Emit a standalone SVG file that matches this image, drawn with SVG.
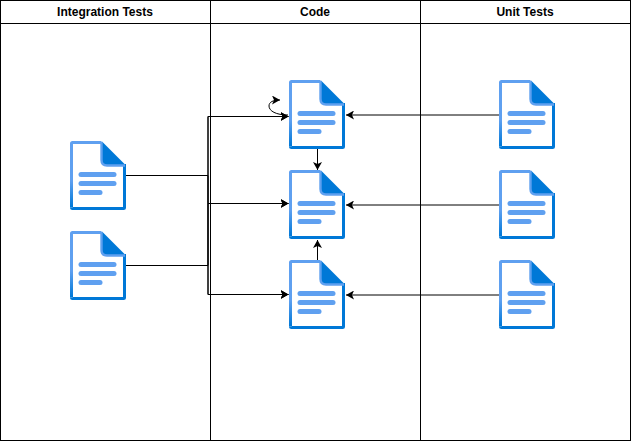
<svg xmlns="http://www.w3.org/2000/svg" width="631" height="441" viewBox="0 0 631 441">
<style>
.lane{fill:#fff;stroke:#000;stroke-width:1}
.t{font:bold 12px "Liberation Sans",Arial,sans-serif;text-anchor:middle;fill:#000}
.c{fill:none;stroke:#000;stroke-width:1}
</style>
<defs>
<marker id="a" viewBox="0 0 8 9" markerWidth="8" markerHeight="9" refX="8" refY="4.5" orient="auto" markerUnits="userSpaceOnUse"><path d="M0 0L8 4.5L0 9L2 4.5Z" fill="#000"/></marker>
<linearGradient id="edge" gradientUnits="userSpaceOnUse" x1="0" y1="40" x2="0" y2="66"><stop offset="0" stop-color="#5fa0f0"/><stop offset="1" stop-color="#0078d7"/></linearGradient>
<g id="doc">
<path d="M1.5 1.5H32L54.5 24V67.5H1.5Z" fill="#fff"/>
<path d="M54.5 23V66.5Q54.5 67.5 53.5 67.5H2.5Q1.5 67.5 1.5 66.5" fill="none" stroke="#0078d7" stroke-width="3"/>
<path d="M1.5 66.5V2.5Q1.5 1.5 2.5 1.5H31.5" fill="none" stroke="url(#edge)" stroke-width="3"/>
<path d="M32 0.5L56 24.5H37Q31.5 24.5 31.5 19Z" fill="#0078d7"/>
<path d="M31.5 1V19Q31.5 24.5 37 24.5H55" fill="none" stroke="#5fa0f0" stroke-width="2.4"/>
<rect x="8.5" y="31" width="38" height="5" rx="2.5" fill="#5fa0f0"/>
<rect x="8.5" y="40" width="38" height="5" rx="2.5" fill="#5fa0f0"/>
<rect x="8.5" y="49" width="24" height="5" rx="2.5" fill="#5fa0f0"/>
</g>
</defs>
<rect width="631" height="441" fill="#fff"/>
<g id="lanes">
<rect class="lane" x="0.5" y="0.5" width="210" height="440"/>
<rect class="lane" x="210.5" y="0.5" width="210" height="440"/>
<rect class="lane" x="420.5" y="0.5" width="210" height="440"/>
<path class="c" d="M0.5 23.5H630.5"/>
<text class="t" x="105" y="16">Integration Tests</text>
<text class="t" x="315" y="16">Code</text>
<text class="t" x="525" y="16">Unit Tests</text>
</g>
<g id="connectors">
<path class="c" d="M126 175.5H208V116.5H288.5" marker-end="url(#a)"/>
<path class="c" d="M126 175.5H208V203.5H288.5" marker-end="url(#a)"/>
<path class="c" d="M126 175.5H208V294.5H288.5" marker-end="url(#a)"/>
<path class="c" d="M126 265.5H208V116.5H288.5" marker-end="url(#a)"/>
<path class="c" d="M126 265.5H208V203.5H288.5" marker-end="url(#a)"/>
<path class="c" d="M126 265.5H208V294.5H288.5" marker-end="url(#a)"/>
<path class="c" d="M288 115C276 115 269 111 269 106C269 102 273 100 280 100" marker-end="url(#a)"/>
<path class="c" d="M317.5 149V170" marker-end="url(#a)"/>
<path class="c" d="M317.5 260V240" marker-end="url(#a)"/>
<path class="c" d="M499 115H346" marker-end="url(#a)"/>
<path class="c" d="M499 205H346" marker-end="url(#a)"/>
<path class="c" d="M499 295H346" marker-end="url(#a)"/>
</g>
<g id="int1"><use href="#doc" x="70" y="141"/></g>
<g id="int2"><use href="#doc" x="70" y="231"/></g>
<g id="code1"><use href="#doc" x="289" y="80"/></g>
<g id="code2"><use href="#doc" x="289" y="170"/></g>
<g id="code3"><use href="#doc" x="289" y="260"/></g>
<g id="unit1"><use href="#doc" x="499" y="80"/></g>
<g id="unit2"><use href="#doc" x="499" y="170"/></g>
<g id="unit3"><use href="#doc" x="499" y="260"/></g>
</svg>
